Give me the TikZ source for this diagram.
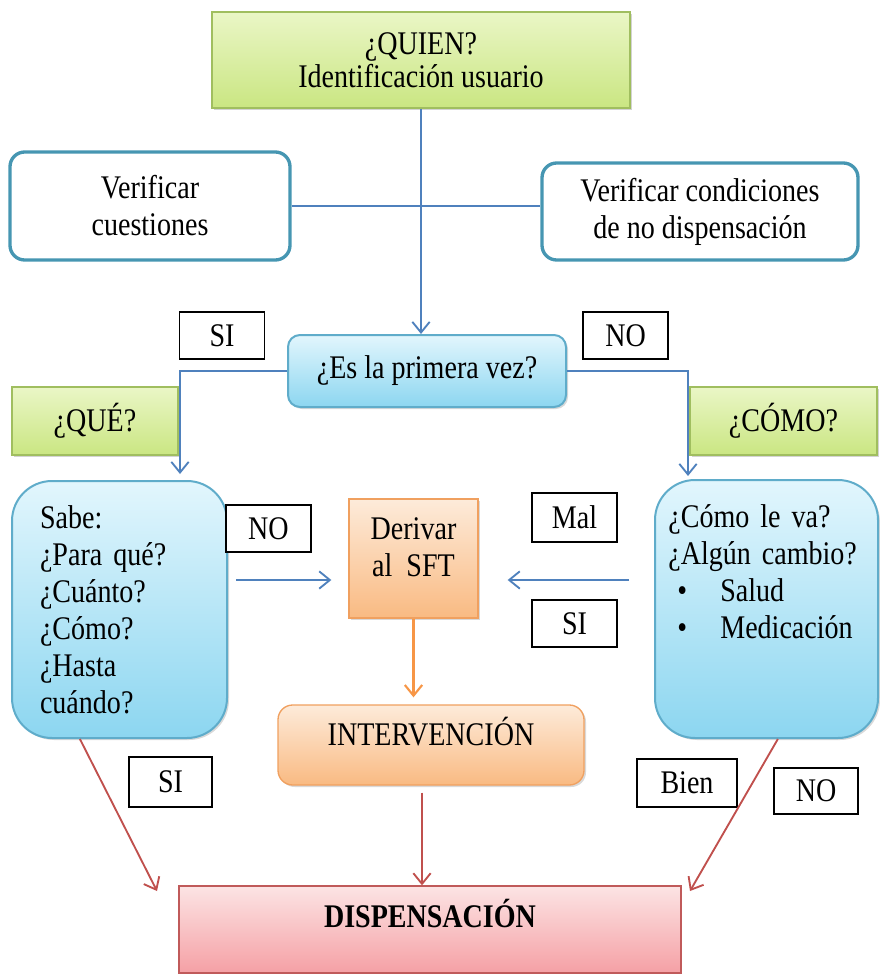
\documentclass[tikz,border=0pt]{standalone}
\usepackage{fontspec}
\setmainfont[FakeStretch=0.85]{Liberation Serif}
\usetikzlibrary{arrows.meta,shadows}

\definecolor{greenline}{RGB}{160,190,95}
\definecolor{greentop}{RGB}{234,246,198}
\definecolor{greenbot}{RGB}{202,230,130}
\definecolor{tealline}{RGB}{70,150,178}
\definecolor{blueline}{RGB}{95,172,202}
\definecolor{bluetop}{RGB}{226,246,253}
\definecolor{bluebot}{RGB}{140,214,240}
\definecolor{orangeline}{RGB}{240,160,95}
\definecolor{orangetop}{RGB}{253,235,218}
\definecolor{orangebot}{RGB}{249,186,130}
\definecolor{pinkline}{RGB}{192,90,90}
\definecolor{pinktop}{RGB}{252,228,228}
\definecolor{pinkbot}{RGB}{245,160,165}
\definecolor{linkblue}{RGB}{79,129,189}
\definecolor{linkred}{RGB}{192,80,77}
\definecolor{linkorange}{RGB}{247,150,70}

\newcommand{\listdot}{\leavevmode\makebox[39pt][l]{\hspace{6.75pt}\textbullet}}

\tikzset{every picture/.style={line width=0.75pt}}
\tikzset{
  basebox/.style={font=\fontsize{24.75pt}{27.75pt}\selectfont, inner sep=0.75pt},
  greenbox/.style={basebox, draw=greenline, line width=1pt, top color=greentop, bottom color=greenbot,
    drop shadow={opacity=0.35, shadow xshift=1.5pt, shadow yshift=-1.5pt}},
  verifbox/.style={basebox, draw=tealline, line width=2.5pt, fill=white, rounded corners=11pt},
  bluebox/.style={basebox, draw=blueline, line width=1.5pt, top color=bluetop, bottom color=bluebot,
    drop shadow={opacity=0.3, shadow xshift=1.5pt, shadow yshift=-1.5pt}},
  orangebox/.style={basebox, draw=orangeline, line width=1pt, top color=orangetop, bottom color=orangebot,
    drop shadow={opacity=0.3, shadow xshift=1.5pt, shadow yshift=-1.5pt}},
  pinkbox/.style={basebox, draw=pinkline, line width=1pt, top color=pinktop, bottom color=pinkbot},
  answer/.style={basebox, draw=black, line width=1.1pt, fill=white, minimum width=63.75pt, minimum height=35.25pt, inner sep=0pt},
  blueedge/.style={draw=linkblue, line width=1.4pt},
  bluearrow/.style={blueedge, -{Straight Barb[length=8pt,width=13pt]}},
  orangearrow/.style={draw=linkorange, line width=1.6pt, -{Straight Barb[length=8pt,width=13pt]}},
  redarrow/.style={draw=linkred, line width=1.4pt, -{Straight Barb[length=8pt,width=13pt]}}
}

\begin{document}
\begin{tikzpicture}[x=0.75pt,y=0.75pt,yscale=-1,xscale=1]
\useasboundingbox (0,0) rectangle (880,974);

% Text Node
\draw (421,60) node [greenbox, align=center, minimum width=313.5pt, minimum height=72pt] (quien) {¿QUIEN?\\[-3pt]Identificación usuario};
% Text Node
\draw (150,206) node [verifbox, align=center, minimum width=210pt, minimum height=81pt] (vcuest) {Verificar\\cuestiones};
% Text Node
\draw (700,211.5) node [verifbox, align=center, minimum width=237pt, minimum height=72.75pt] (vcond) {Verificar condiciones\\de no dispensación};
% Text Node
\draw (427,371) node [bluebox, rounded corners=9pt, minimum width=208.5pt, minimum height=54pt] (primera) {¿Es la primera vez?};
% Text Node
\draw (95,421) node [greenbox, minimum width=124.5pt, minimum height=51pt] (que) {¿QUÉ?};
% Text Node
\draw (783.5,421) node [greenbox, minimum width=140.25pt, minimum height=51pt] (como) {¿CÓMO?};
% Text Node
\draw (119.5,609.5) node [bluebox, rounded corners=30pt, align=left, text width=119.25pt, inner xsep=21pt, minimum height=192.75pt] (sabe) {Sabe:\\¿Para qué?\\¿Cuánto?\\¿Cómo?\\¿Hasta\\cuándo?};
% Text Node
\draw (766.5,609) node [bluebox, rounded corners=30pt, align=left, text width=147.25pt, inner xsep=10pt, minimum height=193.5pt] (comova) {¿Cómo le va?\\¿Algún cambio?\\\listdot Salud\\\listdot Medicación\\\mbox{}\\\mbox{}};
% Text Node
\draw (413.5,558.5) node [orangebox, align=center, minimum width=96.75pt, minimum height=89.25pt] (derivar) {Derivar\\al\ \ SFT\\[-10pt]\mbox{}};
% Text Node
\draw (431,745) node [orangebox, rounded corners=11pt, minimum width=229.5pt, minimum height=60pt, text depth=20pt] (interv) {INTERVENCIÓN};
% Text Node
\draw (430,929.5) node [pinkbox, minimum width=376.5pt, minimum height=65.25pt, text depth=24pt] (disp) {\bfseries DISPENSACIÓN};

% Answer labels
\draw (222,335.5) node [answer] (siPrimera) {SI};
\draw (625.5,335.5) node [answer] (noPrimera) {NO};
\draw (268.5,528.5) node [answer] (noSabe) {NO};
\draw (574.5,517.5) node [answer, minimum height=36.75pt] (malVa) {Mal};
\draw (574.5,623.5) node [answer] (siCambio) {SI};
\draw (170.5,782) node [answer, minimum width=62.25pt, minimum height=37.5pt] (siSabe) {SI};
\draw (687,783) node [answer, minimum width=75pt, minimum height=36pt] (bienVa) {Bien};
\draw (816,791) node [answer, minimum width=63pt, minimum height=34.5pt] (noCambio) {NO};

% Connectors
\coordinate (queIn) at (180,474);
\coordinate (comoIn) at (688,476);
\coordinate (dispL) at (157,891);
\coordinate (dispR) at (690,891);

\draw [bluearrow] (quien.south) -- (quien.south |- primera.north);
\draw [blueedge] (vcuest.east) -- (vcuest.east -| vcond.west);
\draw [bluearrow] (primera.west) -| (queIn);
\draw [bluearrow] (primera.east) -| (comoIn);
\draw [bluearrow, shorten <=6pt, shorten >=12.75pt] (sabe.east |- 0,580) -- (derivar.west |- 0,580);
\draw [bluearrow, shorten <=18.75pt, shorten >=21.75pt] (comova.west |- 0,580) -- (derivar.east |- 0,580);
\draw [orangearrow, shorten >=5.25pt] (derivar.south) -- (derivar.south |- interv.north);
\draw [redarrow] (sabe.253) -- (dispL);
\draw [redarrow, shorten <=5.25pt] ([xshift=-6.75pt]interv.south) -- ([xshift=-6.75pt]interv.south |- disp.north);
\draw [redarrow] (comova.275) -- (dispR);
\end{tikzpicture}
\end{document}
